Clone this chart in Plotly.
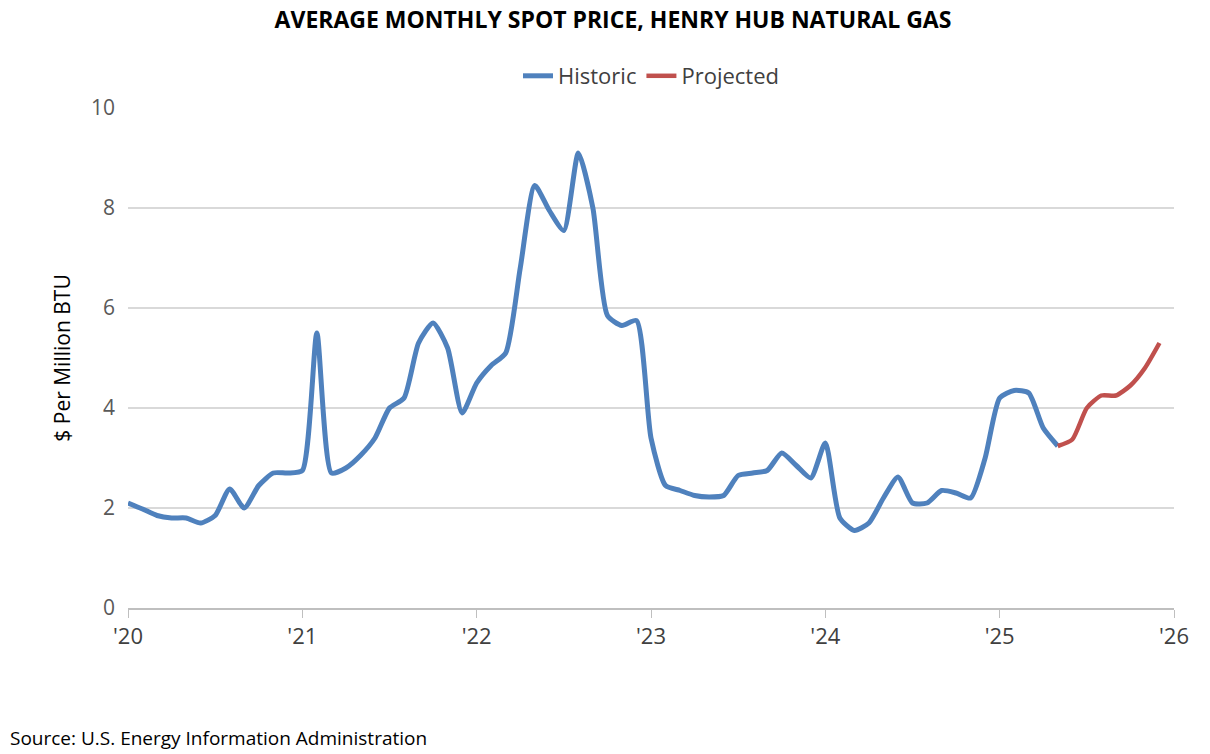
import plotly.graph_objects as go

hist = [2.1,1.98,1.85,1.8,1.8,1.7,1.85,2.38,2.0,2.45,2.7,2.7,
        2.75,5.5,2.7,2.8,3.05,3.4,4.0,4.2,5.3,5.7,5.2,3.9,
        4.5,4.85,5.1,6.8,8.45,7.95,7.55,9.1,8.0,5.85,5.65,5.75,
        3.4,2.45,2.35,2.25,2.22,2.25,2.65,2.7,2.75,3.1,2.85,2.6,
        3.3,1.8,1.55,1.7,2.2,2.62,2.1,2.1,2.35,2.3,2.2,3.0,
        4.2,4.35,4.3,3.6,3.24]
proj = [3.24,3.37,4.0,4.25,4.25,4.45,4.8,5.3]
tick_labels = ["'20","'21","'22","'23","'24","'25","'26"]

xh = list(range(len(hist)))
xp = list(range(len(hist)-1, len(hist)-1+len(proj)))

fig = go.Figure()
fig.add_trace(go.Scatter(x=xh, y=hist, mode="lines", name="Historic",
    line=dict(color="#4F81BD", width=5, shape="spline", smoothing=0.6)))
fig.add_trace(go.Scatter(x=xp, y=proj, mode="lines", name="Projected",
    line=dict(color="#C0504D", width=4.5, shape="spline", smoothing=0.6)))

fig.update_layout(
    width=1210, height=754, plot_bgcolor="white", paper_bgcolor="white",
    margin=dict(l=120, r=44, t=100, b=154),
    font=dict(family="Open Sans, sans-serif", color="#404040"),
    title=dict(text="<b>AVERAGE MONTHLY SPOT PRICE, HENRY HUB NATURAL GAS</b>",
               x=0.5, xanchor="center", y=0.995, yanchor="top",
               font=dict(size=23, color="black")),
    legend=dict(orientation="h", x=0.5, xanchor="center", y=1.064, yanchor="middle",
                font=dict(size=22, color="#404040")),
    xaxis=dict(range=[0, 72], tickvals=[0,12,24,36,48,60,72], ticktext=tick_labels,
               showgrid=False, showline=True, linecolor="#BFBFBF", linewidth=1.5,
               ticks="outside", ticklen=8, tickcolor="#BFBFBF",
               tickfont=dict(size=22, color="#404040"), zeroline=False),
    yaxis=dict(range=[0, 10], dtick=2, showgrid=True, gridcolor="#D9D9D9", gridwidth=1.5,
               zeroline=False, showline=False, tickfont=dict(size=21, color="#595959"),
               ticklabelstandoff=12,
               title=dict(text="$ Per Million BTU", font=dict(size=21, color="black"), standoff=14)),
    annotations=[dict(text="Source: U.S. Energy Information Administration", xref="paper",
                      yref="paper", x=-0.115, y=-0.26, xanchor="left", yanchor="middle",
                      showarrow=False, font=dict(size=19, color="black"))],
)
fig.write_html("out.html")
